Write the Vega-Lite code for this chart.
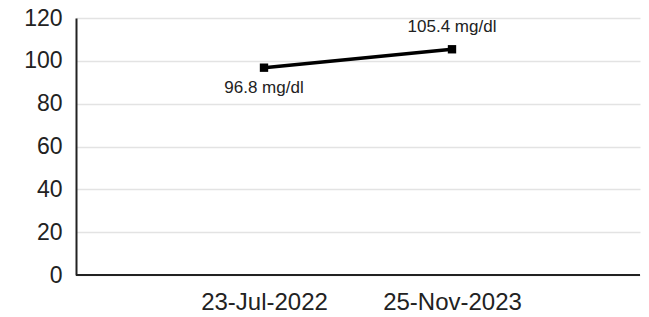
{
  "$schema": "https://vega.github.io/schema/vega-lite/v6.json",
  "autosize": {"type": "none"},
  "padding": {"left": 76, "top": 18, "right": 9, "bottom": 42},
  "width": 564,
  "height": 257,
  "background": "white",
  "config": {
    "view": {"stroke": null},
    "font": "Liberation Sans",
    "axis": {"labelFont": "Liberation Sans", "labelColor": "#222", "grid": true, "gridColor": "#e3e3e3", "gridWidth": 1.5, "ticks": false, "domainColor": "#222", "domainWidth": 2}
  },
  "data": {"values": [
    {"date": "23-Jul-2022", "value": 96.8, "label": "96.8 mg/dl", "pos": "below"},
    {"date": "25-Nov-2023", "value": 105.4, "label": "105.4 mg/dl", "pos": "above"}
  ]},
  "encoding": {
    "x": {"field": "date", "type": "ordinal", "sort": null, "scale": {"type": "point", "padding": 1},
      "axis": {"title": null, "labelAngle": 0, "labelFontSize": 24, "labelPadding": 15, "grid": false, "domain": false}},
    "y": {"field": "value", "type": "quantitative", "scale": {"domain": [0, 120]},
      "axis": {"title": null, "values": [0, 20, 40, 60, 80, 100, 120], "labelFontSize": 23, "labelPadding": 14}}
  },
  "layer": [
    {"mark": {"type": "rule", "color": "#222", "strokeWidth": 2}, "encoding": {"y": {"datum": 0}, "x": null}},
    {"mark": {"type": "line", "color": "black", "strokeWidth": 3.5}},
    {"mark": {"type": "square", "color": "black", "size": 70, "opacity": 1, "filled": true}},
    {"transform": [{"filter": "datum.pos == 'below'"}],
      "mark": {"type": "text", "fontSize": 17, "color": "#222", "dy": 20}, "encoding": {"text": {"field": "label"}}},
    {"transform": [{"filter": "datum.pos == 'above'"}],
      "mark": {"type": "text", "fontSize": 17, "color": "#222", "dy": -22}, "encoding": {"text": {"field": "label"}}}
  ]
}
